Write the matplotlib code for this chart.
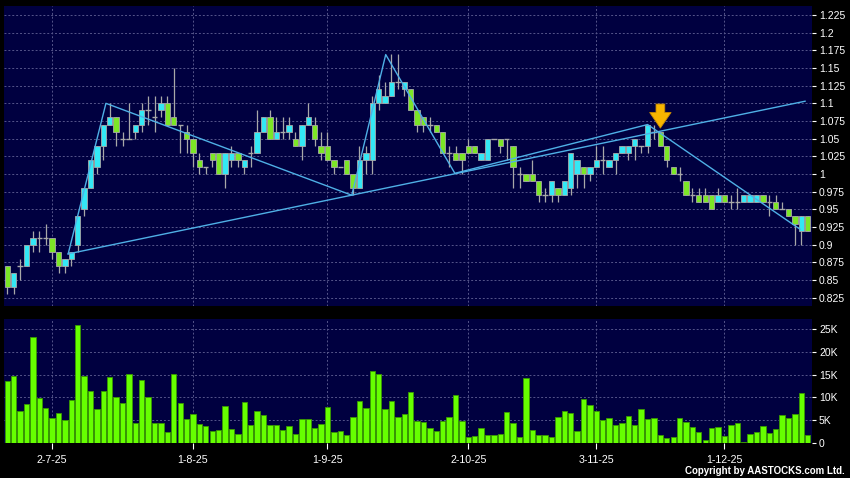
import matplotlib
matplotlib.use('Agg')
import matplotlib.pyplot as plt
from matplotlib.patches import Rectangle

# daily bars, 20-6-25 .. 18-12-25 (bar index 0..125)
opens = [0.87, 0.84, 0.87, 0.87, 0.90, 0.91, 0.91, 0.91, 0.89, 0.87,
         0.88, 0.90, 0.95, 0.98, 1.01, 1.04, 1.07, 1.08, 1.05, 1.05,
         1.06, 1.07, 1.09, 1.08, 1.09, 1.10, 1.08, 1.07, 1.06, 1.05,
         1.02, 1.01, 1.03, 1.03, 1.00, 1.02, 1.03, 1.01, 1.03, 1.03,
         1.06, 1.08, 1.05, 1.06, 1.06, 1.05, 1.04, 1.07, 1.07, 1.04,
         1.04, 1.02, 1.01, 1.02, 1.00, 0.98, 1.02, 1.02, 1.10, 1.10,
         1.11, 1.13, 1.12, 1.12, 1.09, 1.08, 1.07, 1.07, 1.06, 1.03,
         1.03, 1.03, 1.04, 1.04, 1.02, 1.02, 1.05, 1.05, 1.05, 1.04,
         1.00, 1.00, 1.00, 0.99, 0.97, 0.97, 0.98, 0.97, 0.98, 1.00,
         1.01, 1.00, 1.01, 1.02, 1.01, 1.02, 1.03, 1.03, 1.04, 1.04,
         1.04, 1.06, 1.06, 1.04, 1.01, 1.00, 0.99, 0.97, 0.97, 0.97,
         0.97, 0.96, 0.97, 0.96, 0.96, 0.96, 0.96, 0.96, 0.97, 0.96,
         0.96, 0.95, 0.95, 0.94, 0.92, 0.94]
highs = [0.87, 0.86, 0.88, 0.90, 0.92, 0.92, 0.93, 0.91, 0.89, 0.88,
         0.89, 0.94, 0.98, 1.02, 1.04, 1.07, 1.10, 1.08, 1.06, 1.10,
         1.07, 1.10, 1.11, 1.11, 1.11, 1.11, 1.15, 1.07, 1.07, 1.05,
         1.03, 1.01, 1.03, 1.03, 1.03, 1.04, 1.03, 1.02, 1.04, 1.09,
         1.08, 1.09, 1.08, 1.08, 1.08, 1.06, 1.07, 1.10, 1.08, 1.06,
         1.06, 1.02, 1.01, 1.02, 1.00, 1.04, 1.04, 1.11, 1.14, 1.13,
         1.17, 1.17, 1.13, 1.12, 1.09, 1.08, 1.08, 1.07, 1.06, 1.04,
         1.04, 1.03, 1.05, 1.04, 1.03, 1.05, 1.05, 1.05, 1.05, 1.04,
         1.01, 1.00, 1.02, 0.99, 0.98, 0.99, 0.98, 0.99, 1.03, 1.02,
         1.01, 1.01, 1.04, 1.04, 1.02, 1.03, 1.04, 1.04, 1.05, 1.04,
         1.07, 1.07, 1.06, 1.04, 1.01, 1.01, 0.99, 0.98, 0.98, 0.98,
         0.97, 0.98, 0.97, 0.97, 0.98, 0.97, 0.97, 0.97, 0.97, 0.97,
         0.97, 0.96, 0.95, 0.94, 0.94, 0.94]
lows = [0.83, 0.83, 0.85, 0.87, 0.89, 0.89, 0.90, 0.88, 0.86, 0.86,
        0.87, 0.89, 0.94, 0.98, 1.00, 1.02, 1.07, 1.04, 1.04, 1.05,
        1.05, 1.06, 1.07, 1.06, 1.08, 1.07, 1.07, 1.03, 1.03, 1.01,
        1.00, 1.00, 1.01, 1.00, 0.98, 1.01, 1.01, 1.00, 1.01, 1.03,
        1.06, 1.05, 1.05, 1.05, 1.05, 1.04, 1.02, 1.07, 1.04, 1.02,
        1.02, 1.00, 1.01, 1.00, 0.97, 0.98, 1.00, 1.00, 1.09, 1.10,
        1.11, 1.12, 1.11, 1.09, 1.06, 1.06, 1.06, 1.06, 1.03, 1.01,
        1.02, 1.00, 1.03, 1.03, 1.02, 1.02, 1.05, 1.03, 1.02, 0.98,
        0.98, 0.99, 0.99, 0.96, 0.96, 0.96, 0.96, 0.97, 0.97, 0.98,
        0.98, 0.99, 1.01, 1.00, 1.01, 1.00, 1.03, 1.02, 1.02, 1.03,
        1.03, 1.05, 1.04, 1.01, 1.00, 0.99, 0.97, 0.96, 0.96, 0.96,
        0.95, 0.96, 0.96, 0.95, 0.95, 0.96, 0.96, 0.96, 0.96, 0.94,
        0.95, 0.95, 0.94, 0.90, 0.90, 0.92]
closes = [0.84, 0.86, 0.87, 0.90, 0.91, 0.91, 0.91, 0.89, 0.87, 0.88,
          0.89, 0.94, 0.98, 1.02, 1.04, 1.07, 1.08, 1.06, 1.05, 1.05,
          1.07, 1.09, 1.09, 1.08, 1.10, 1.07, 1.07, 1.07, 1.05, 1.03,
          1.01, 1.01, 1.02, 1.00, 1.03, 1.03, 1.02, 1.02, 1.03, 1.06,
          1.08, 1.05, 1.06, 1.06, 1.07, 1.04, 1.07, 1.08, 1.05, 1.03,
          1.02, 1.01, 1.01, 1.00, 0.98, 1.02, 1.03, 1.10, 1.12, 1.11,
          1.13, 1.13, 1.13, 1.09, 1.07, 1.07, 1.07, 1.06, 1.03, 1.03,
          1.02, 1.02, 1.03, 1.03, 1.03, 1.05, 1.05, 1.04, 1.05, 1.01,
          1.00, 0.99, 0.99, 0.97, 0.97, 0.99, 0.97, 0.99, 1.03, 1.02,
          1.00, 1.01, 1.02, 1.02, 1.02, 1.03, 1.04, 1.04, 1.05, 1.04,
          1.07, 1.06, 1.04, 1.02, 1.00, 1.00, 0.97, 0.97, 0.96, 0.96,
          0.95, 0.97, 0.96, 0.96, 0.96, 0.97, 0.97, 0.97, 0.96, 0.96,
          0.95, 0.95, 0.94, 0.93, 0.94, 0.92]
volumes = [13550, 14780, 7030, 8620, 23330, 9860, 7750, 5430, 6670, 5070,
           9420, 25800, 14710, 11300, 7460, 11450, 14570, 10140, 8700, 15220,
           4490, 13840, 10000, 4350, 4350, 2320, 15070, 8770, 5220, 6300,
           4130, 3770, 2680, 2900, 8120, 2970, 1960, 8990, 3990, 6960,
           6090, 3840, 3910, 2750, 3620, 1960, 5290, 5290, 3190, 4060,
           7970, 2460, 2610, 1740, 5720, 9280, 7750, 15800, 15220, 7390,
           9130, 5800, 6300, 11230, 4860, 4570, 3260, 2610, 4780, 5720,
           10430, 4860, 1380, 1520, 3330, 1810, 1740, 1880, 6880, 4280,
           1380, 14200, 2900, 1740, 1740, 1380, 5800, 6960, 6670, 2680,
           9570, 8410, 6960, 5000, 5580, 3840, 4350, 5940, 3990, 7540,
           5290, 5580, 1740, 1010, 1300, 5510, 4570, 3410, 2320, 720,
           3330, 3480, 1450, 3840, 4490, 150, 1960, 2390, 3620, 2170,
           3040, 6090, 5580, 6450, 10940, 1740]

tick_idx = [7, 29, 50, 72, 92, 112]
tick_labels = ['2-7-25', '1-8-25', '1-9-25', '2-10-25', '3-11-25', '1-12-25']

price_ticks = [0.825, 0.85, 0.875, 0.9, 0.925, 0.95, 0.975, 1.0, 1.025,
               1.05, 1.075, 1.1, 1.125, 1.15, 1.175, 1.2, 1.225]
price_labels = ['0.825', '0.85', '0.875', '0.9', '0.925', '0.95', '0.975', '1',
                '1.025', '1.05', '1.075', '1.1', '1.125', '1.15', '1.175', '1.2', '1.225']
vol_ticks = [0, 5000, 10000, 15000, 20000, 25000]
vol_labels = ['0', '5K', '10K', '15K', '20K', '25K']

# hand drawn trend lines (bar index, price)
trend_x = [[9.5, 15.4, 53.8], [9.5, 124.6], [53.8, 59.1, 69.9, 100.0, 123.8]]
trend_y = [[0.887, 1.100, 0.970], [0.887, 1.103], [0.970, 1.169, 1.001, 1.070, 0.922]]
signal_idx = 102
signal_price = 1.065

BG = '#000040'
GRID = '#55558a'
UP = '#33e8f5'
DOWN = '#7ce626'
EDGE = '#a8a8a8'

plt.rcParams['font.family'] = ['Liberation Sans', 'DejaVu Sans']

fig = plt.figure(figsize=(8.5, 4.78), dpi=100, facecolor='black')
ax = fig.add_axes([4 / 850, 1 - 306 / 478, 808 / 850, 300 / 478])
ax2 = fig.add_axes([4 / 850, 1 - 443 / 478, 808 / 850, 124 / 478])

n = len(closes)
for a in (ax, ax2):
    a.set_facecolor(BG)
    a.set_xlim(-0.52, 125.68)
    for s in a.spines.values():
        s.set_visible(False)
    a.yaxis.tick_right()
    a.tick_params(axis='y', colors='white', length=3, width=0.8, pad=2, labelsize=7.5)
    a.set_xticks(tick_idx)
    a.grid(True, color=GRID, linestyle=(0, (2, 2)), linewidth=0.7)
    a.set_axisbelow(True)

# candles
body_w = 0.84
for i in range(n):
    o, h, l, c = opens[i], highs[i], lows[i], closes[i]
    ax.vlines(i, l, h, color=EDGE, linewidth=0.9, zorder=2)
    if c == o:
        ax.hlines(o, i - body_w / 2, i + body_w / 2, color=EDGE, linewidth=1.0, zorder=3)
    else:
        col = UP if c > o else DOWN
        ax.add_patch(Rectangle((i - body_w / 2, min(o, c)), body_w, abs(c - o),
                               facecolor=col, edgecolor=EDGE, linewidth=0.6, zorder=3))

for xs, ys in zip(trend_x, trend_y):
    ax.plot(xs, ys, color='#4fb0e6', linewidth=1.0, zorder=4)

ax.annotate('', xy=(signal_idx, signal_price), xytext=(signal_idx, signal_price + 0.034),
            arrowprops=dict(arrowstyle='simple,head_length=0.8,head_width=1.1,tail_width=0.45',
                            facecolor='#f7b500', edgecolor='#c98a00', linewidth=0.6,
                            mutation_scale=14, shrinkA=0, shrinkB=0), zorder=5)

ax.set_ylim(0.8133, 1.2377)
ax.set_yticks(price_ticks)
ax.set_yticklabels(price_labels)
ax.tick_params(axis='x', length=0, labelbottom=False)

ax2.bar(range(n), volumes, width=body_w, color='#66ff00', edgecolor='#3a9a00',
        linewidth=0.6, zorder=3)
ax2.set_ylim(0, 27170)
ax2.set_yticks(vol_ticks)
ax2.set_yticklabels(vol_labels)
ax2.set_xticklabels(tick_labels)
ax2.tick_params(axis='x', colors='white', length=4, width=0.8, pad=4.5, labelsize=7.7)

fig.text(845 / 850, 7 / 478, 'Copyright by AASTOCKS.com Ltd.', color='white',
         fontsize=7, fontweight='bold', ha='right', va='center')

fig.savefig('out.png', dpi=100, facecolor='black')
